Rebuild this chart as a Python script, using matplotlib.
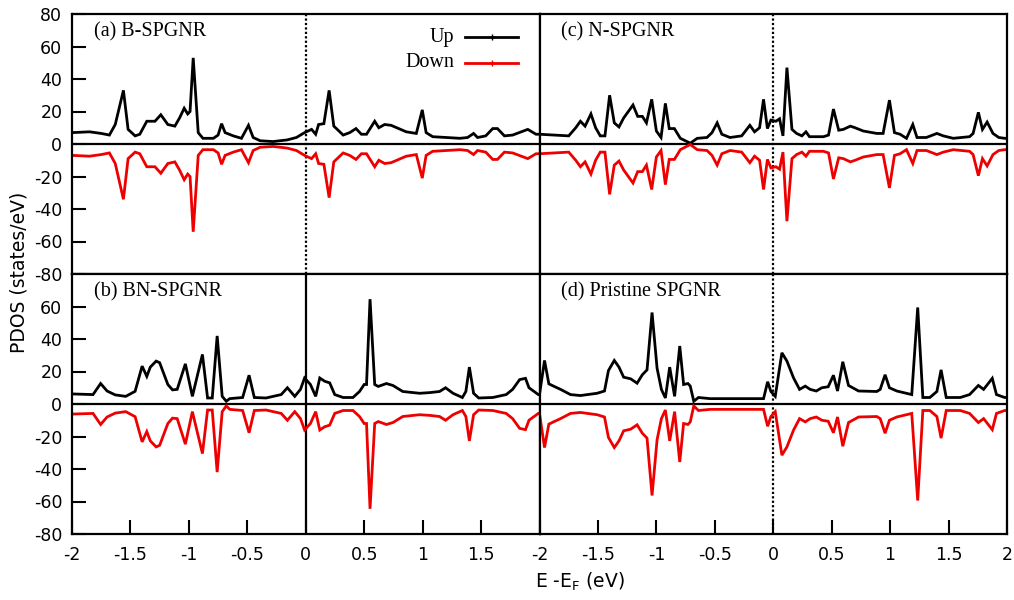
import matplotlib
matplotlib.use("Agg")
import matplotlib.pyplot as plt
from matplotlib.lines import Line2D

# ---------------- data ----------------
# (a) B-SPGNR
a_x = [-2.0, -1.85, -1.75, -1.68, -1.63, -1.56, -1.52, -1.46, -1.42, -1.36, -1.29, -1.24, -1.18, -1.12,
       -1.08, -1.04, -1.01, -0.99, -0.963, -0.92, -0.88, -0.79, -0.75, -0.72, -0.69, -0.62, -0.55, -0.49,
       -0.45, -0.39, -0.28, -0.16, -0.08, -0.01, 0.05, 0.085, 0.11, 0.155, 0.2, 0.24, 0.32, 0.376, 0.43,
       0.476, 0.52, 0.59, 0.625, 0.675, 0.73, 0.86, 0.946, 0.997, 1.03, 1.086, 1.32, 1.385, 1.436, 1.47,
       1.54, 1.6, 1.64, 1.7, 1.77, 1.9, 1.97, 2.0]
a_up = [7, 7.5, 6.5, 5.5, 12, 33, 9, 5, 6, 14, 14, 18, 12, 11, 16, 22, 18.5, 20, 53, 7, 3.5, 3.5, 5.5,
        12.5, 7, 5, 3.5, 11.5, 4, 2, 1.5, 2.5, 4, 7, 9, 6, 12, 12.5, 33, 11, 5.5, 7, 9.5, 6, 6, 14, 10,
        12, 11.5, 7.5, 6.5, 21, 7, 4.5, 3.5, 4, 6.5, 4, 5, 9.5, 9.5, 5, 5.5, 9, 6, 6]
a_down = [-7, -7.5, -6.5, -5.5, -12, -34, -9, -5, -6, -14, -14, -18, -12, -11, -16, -22, -18.5, -20, -54,
          -7, -3.5, -3.5, -5.5, -12.5, -7, -5, -3.5, -11.5, -4, -2, -1.5, -2.5, -4, -7, -9, -6, -12, -12.5,
          -33, -11, -5.5, -7, -9.5, -6, -6, -14, -10, -12, -11.5, -7.5, -6.5, -21, -7, -4.5, -3.5, -4, -6.5,
          -4, -5, -9.5, -9.5, -5, -5.5, -9, -6, -6]

# (b) BN-SPGNR
b_x = [-2.0, -1.82, -1.755, -1.7, -1.63, -1.54, -1.46, -1.4, -1.36, -1.33, -1.28, -1.25, -1.18, -1.14,
       -1.1, -1.03, -0.97, -0.884, -0.84, -0.8, -0.758, -0.715, -0.68, -0.65, -0.54, -0.485, -0.44, -0.34,
       -0.21, -0.157, -0.094, -0.045, -0.01, 0.04, 0.085, 0.12, 0.162, 0.205, 0.248, 0.32, 0.404, 0.46,
       0.5, 0.52, 0.55, 0.59, 0.62, 0.69, 0.746, 0.83, 0.974, 1.06, 1.145, 1.196, 1.26, 1.34, 1.37, 1.4,
       1.436, 1.48, 1.6, 1.715, 1.77, 1.83, 1.88, 1.91, 1.99, 2.0]
b_up = [6.2, 5.8, 12.6, 8, 5.6, 4.7, 7.8, 23.3, 17, 22.7, 26.4, 25.4, 12, 8.7, 9, 24.7, 4.7, 30.5, 3.7,
        3.7, 41.9, 4.7, 1.7, 3.3, 4, 17.7, 4, 3.7, 5.8, 10, 4.7, 9, 16, 12, 4.7, 16, 14, 13, 5.8, 4, 4,
        7.7, 12, 12, 64.5, 12, 10.8, 12.6, 11.4, 7.7, 6.6, 7, 7.7, 10, 6.6, 4, 7.7, 22.7, 6.6, 3.7, 4,
        5.8, 9, 15, 15.8, 10, 5.8, 5.8]
b_down = [-6.2, -5.8, -12.6, -8, -5.6, -4.7, -7.8, -23.3, -17, -22.7, -26.4, -25.4, -12, -8.7, -9, -24.7,
          -4.7, -30.5, -3.7, -3.7, -41.9, -4.7, -1.2, -3.3, -4, -17.7, -4, -3.7, -5.8, -10, -4.7, -9, -16,
          -12, -4.7, -16, -14, -13, -5.8, -4, -4, -7.7, -12, -12, -64.5, -12, -10.8, -12.6, -11.4, -7.7,
          -6.6, -7, -7.7, -10, -6.6, -4, -7.7, -22.7, -6.6, -3.7, -4, -5.8, -9, -15, -15.8, -10, -5.8, -5.8]

# (c) N-SPGNR
c_x = [-2.0, -1.75, -1.69, -1.65, -1.61, -1.56, -1.52, -1.48, -1.44, -1.40, -1.36, -1.32, -1.28, -1.20,
       -1.16, -1.12, -1.085, -1.04, -1.0, -0.96, -0.923, -0.89, -0.846, -0.795, -0.71, -0.65, -0.567,
       -0.524, -0.48, -0.44, -0.37, -0.27, -0.2, -0.16, -0.117, -0.083, -0.05, -0.02, 0.023, 0.054, 0.083,
       0.117, 0.16, 0.2, 0.245, 0.28, 0.31, 0.43, 0.473, 0.515, 0.56, 0.6, 0.66, 0.7, 0.77, 0.886, 0.94,
       0.994, 1.037, 1.085, 1.14, 1.194, 1.23, 1.31, 1.4, 1.455, 1.54, 1.68, 1.71, 1.755, 1.79, 1.83, 1.88,
       1.93, 1.98, 2.0]
c_up = [6, 5, 10, 14, 11, 18.5, 10, 5, 5, 30, 13, 10.5, 16, 24, 17, 17, 13, 27.5, 8, 4, 25, 9.5, 9.5,
        3.5, 0.5, 3.5, 4, 7, 13, 6, 4, 5, 11.5, 7.5, 10, 27.5, 9.5, 14.7, 14, 15.5, 5, 47, 9, 6.5, 5, 7.5,
        4.5, 4.5, 5.5, 21.5, 8.5, 9, 11, 10, 8, 6.5, 6.5, 27, 7, 6, 3.5, 12, 4, 4, 6.5, 5, 3.5, 4.5, 6.5,
        19.5, 9, 13.5, 6.5, 4, 3.5, 3.5]
c_down = [-6, -5, -10, -14, -11, -18.5, -10, -5, -5, -31, -13, -10.5, -16, -24, -17, -17, -13, -28, -8,
          -4, -25, -9.5, -9.5, -3.5, -0.3, -3.5, -4, -7, -13, -6, -4, -5, -11.5, -7.5, -10, -28, -9.5,
          -14.7, -14, -15.5, -5, -47.5, -9, -6.5, -5, -7.5, -4.5, -4.5, -5.5, -21.5, -8.5, -9, -11, -10,
          -8, -6.5, -6.5, -27, -7, -6, -3.5, -12, -4, -4, -6.5, -5, -3.5, -4.5, -6.5, -19.5, -9, -13.5,
          -6.5, -4, -3.5, -3.5]

# (d) Pristine SPGNR
d_x = [-2.0, -1.957, -1.92, -1.88, -1.82, -1.735, -1.65, -1.507, -1.444, -1.41, -1.36, -1.32, -1.28,
       -1.22, -1.165, -1.12, -1.08, -1.037, -0.994, -0.957, -0.923, -0.886, -0.844, -0.8, -0.767, -0.73,
       -0.71, -0.68, -0.64, -0.54, -0.083, -0.048, -0.02, 0.017, 0.074, 0.117, 0.174, 0.225, 0.274, 0.316,
       0.368, 0.416, 0.47, 0.515, 0.55, 0.595, 0.644, 0.73, 0.886, 0.915, 0.957, 0.994, 1.057, 1.185,
       1.236, 1.28, 1.34, 1.4, 1.436, 1.48, 1.6, 1.68, 1.755, 1.8, 1.874, 1.91, 1.98, 2.0]
d_up = [5.8, 26.8, 12.4, 11, 9, 5.8, 5.2, 6.6, 8, 20.6, 26.8, 22.7, 16.5, 15.5, 12.8, 18, 21, 56.3, 22,
        9, 3.7, 22.7, 4.7, 35.7, 12, 12.6, 11, 1.7, 4, 3.3, 3.3, 13.7, 7.7, 4.7, 31.5, 26.4, 16, 9, 11, 9,
        8, 10, 10.6, 17.7, 8, 26, 11.4, 8, 7.7, 9, 18, 10, 8, 5.8, 59.4, 4, 4, 7.7, 21, 4, 4, 5.8, 11.4,
        9, 15.8, 5.8, 4, 4]
d_down = [-5.8, -26.8, -12.4, -11, -9, -5.8, -5.2, -6.6, -8, -20.6, -26.8, -22.7, -16.5, -15.5, -12.8,
          -18, -21, -56.3, -22, -9, -3.7, -22.7, -4.7, -35.7, -12, -12.6, -11, -1.2, -4, -3.3, -3.3,
          -13.7, -7.7, -4.7, -31.5, -26.4, -16, -9, -11, -9, -8, -10, -10.6, -17.7, -8, -26, -11.4, -8,
          -7.7, -9, -18, -10, -8, -5.8, -59.4, -4, -4, -7.7, -21, -4, -4, -5.8, -11.4, -9, -15.8, -5.8,
          -4, -4]

panel_titles = ["(a) B-SPGNR", "(b) BN-SPGNR", "(c) N-SPGNR", "(d) Pristine SPGNR"]
series_labels = ["Up", "Down"]
y_ticks_top = [-80, -60, -40, -20, 0, 20, 40, 60, 80]
y_ticks_bottom = [-80, -60, -40, -20, 0, 20, 40, 60]
x_ticks_left = [-2, -1.5, -1, -0.5, 0, 0.5, 1, 1.5]
x_ticks_right = [-2, -1.5, -1, -0.5, 0, 0.5, 1, 1.5, 2]
x_label = "E -E$_\\mathrm{F}$ (eV)"
y_label = "PDOS (states/eV)"

# ---------------- figure ----------------
plt.rcParams['font.family'] = ['DejaVu Sans']
W, H = 1014, 600
fig, axes = plt.subplots(2, 2, figsize=(W / 100, H / 100), dpi=100)
fig.subplots_adjust(left=72 / W, right=1007 / W, top=1 - 14 / H, bottom=1 - 534 / H,
                    wspace=0, hspace=0)

UP_C = "black"
DN_C = "#ee0000"
LW = 2.0
serif = ['Liberation Serif', 'DejaVu Serif']

panels = [
    (axes[0, 0], a_x, a_up, a_down, panel_titles[0], ':'),
    (axes[1, 0], b_x, b_up, b_down, panel_titles[1], '-'),
    (axes[0, 1], c_x, c_up, c_down, panel_titles[2], ':'),
    (axes[1, 1], d_x, d_up, d_down, panel_titles[3], ':'),
]

for ax, x, up, dn, title, vstyle in panels:
    ax.plot(x, up, color=UP_C, lw=LW, solid_joinstyle='miter', zorder=3)
    ax.plot(x, dn, color=DN_C, lw=LW, solid_joinstyle='miter', zorder=3)
    ax.axhline(0, color='black', lw=1.6, zorder=2)
    if vstyle == ':':
        ax.axvline(0, color='black', lw=1.6, linestyle=(0, (1, 1)), zorder=2)
    else:
        ax.axvline(0, color='black', lw=1.6, zorder=2)
    ax.set_xlim(-2, 2)
    ax.set_ylim(-80, 80)
    for s in ax.spines.values():
        s.set_linewidth(1.6)
        s.set_zorder(4)
    ax.text(0.047, 0.93, title, transform=ax.transAxes, fontsize=14.5, family=serif,
            ha='left', va='center')
    ax.tick_params(axis='both', direction='in', length=10, width=1.5, labelsize=12.5,
                   top=False, right=False)

# y ticks only on left column
axes[0, 0].set_yticks(y_ticks_top)
axes[0, 0].set_yticklabels([str(v) for v in y_ticks_top])
axes[1, 0].set_yticks(y_ticks_bottom)
axes[1, 0].set_yticklabels([str(v) for v in y_ticks_bottom])
for ax in (axes[0, 0], axes[1, 0]):
    ax.tick_params(axis='y', pad=7)
for ax in (axes[0, 1], axes[1, 1]):
    ax.tick_params(axis='y', left=False, labelleft=False)

# x ticks only on bottom row
for ax in (axes[0, 0], axes[0, 1]):
    ax.tick_params(axis='x', bottom=False, labelbottom=False)


def fmt(v):
    s = f"{v:g}"
    return s


axes[1, 0].set_xticks(x_ticks_left)
axes[1, 0].set_xticklabels([fmt(v) for v in x_ticks_left])
axes[1, 1].set_xticks(x_ticks_right)
axes[1, 1].set_xticklabels([fmt(v) for v in x_ticks_right])
for ax in (axes[1, 0], axes[1, 1]):
    ax.tick_params(axis='x', pad=9)

# legend (manual, right-aligned labels) in panel (a)
axL = axes[0, 0]
for i, (lab, col) in enumerate(zip(series_labels, [UP_C, DN_C])):
    yy = 0.91 - i * 0.097
    axL.text(0.818, yy, lab, transform=axL.transAxes, fontsize=14.5, family=serif,
             ha='right', va='center')
    axL.add_line(Line2D([0.84, 0.8975, 0.955], [yy, yy, yy], transform=axL.transAxes,
                        color=col, lw=LW, marker='+', markersize=4, markevery=[1],
                        clip_on=False))

fig.text(19 / W, 1 - 272 / H, y_label, rotation=90, ha='center', va='center', fontsize=13.5)
fig.text(580 / W, 1 - 582 / H, x_label, ha='center', va='center', fontsize=13.5)

fig.savefig("out.png", dpi=100)
